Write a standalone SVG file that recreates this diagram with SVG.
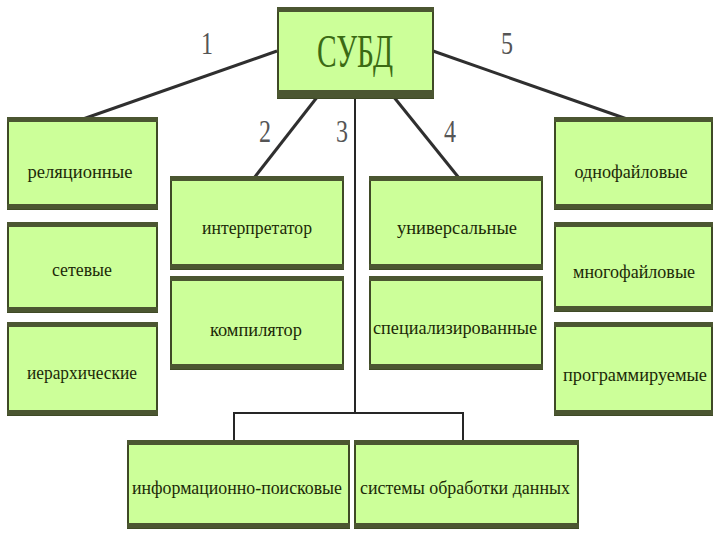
<svg xmlns="http://www.w3.org/2000/svg" width="720" height="540" viewBox="0 0 720 540">
<style>
.box{fill:#ccff99;stroke:#3f4a26;stroke-width:2}
.bar{fill:#4b5631}
.t{font-family:"Liberation Serif","DejaVu Serif",serif;font-size:18px;fill:#1c2a08;text-anchor:middle}
.big{font-family:"Liberation Serif","DejaVu Serif",serif;font-size:46px;fill:#3b6a14;text-anchor:middle}
.num{font-family:"Liberation Serif","DejaVu Serif",serif;font-size:32px;fill:#555;text-anchor:middle}
.c{stroke:#2f2f2f;stroke-width:3;fill:none;stroke-linecap:butt}
.c2{stroke:#262626;stroke-width:2;fill:none}
</style>
<rect width="720" height="540" fill="#ffffff"/>
<g id="connectors">
<line class="c" x1="277" y1="51" x2="83" y2="119"/>
<line class="c" x1="433" y1="51" x2="627" y2="119"/>
<line class="c" x1="318" y1="96" x2="254" y2="178"/>
<line class="c" x1="393" y1="96" x2="459" y2="178"/>
<line class="c2" x1="355" y1="98" x2="355" y2="413"/>
<polyline class="c2" points="234,441 234,413 463,413 463,441"/>
</g>
<g id="labels">
<text class="num" x="207" y="54" textLength="12" lengthAdjust="spacingAndGlyphs">1</text>
<text class="num" x="265" y="142" textLength="12" lengthAdjust="spacingAndGlyphs">2</text>
<text class="num" x="342" y="142" textLength="12" lengthAdjust="spacingAndGlyphs">3</text>
<text class="num" x="450" y="142" textLength="12" lengthAdjust="spacingAndGlyphs">4</text>
<text class="num" x="507" y="54" textLength="12" lengthAdjust="spacingAndGlyphs">5</text>
</g>
<g id="subd">
<rect class="box" x="278" y="8" width="155" height="90"/>
<rect class="bar" x="277" y="7" width="157" height="5"/>
<rect class="bar" x="277" y="90" width="157" height="8"/>
<text class="big" x="355" y="67" textLength="76" lengthAdjust="spacingAndGlyphs">СУБД</text>
</g>
<g id="n-relational">
<rect class="box" x="8" y="118" width="149" height="91"/>
<rect class="bar" x="7" y="117" width="151" height="5"/><rect class="bar" x="7" y="204" width="151" height="5"/>
<text class="t" x="80" y="178" textLength="105" lengthAdjust="spacingAndGlyphs">реляционные</text>
</g>
<g id="n-network">
<rect class="box" x="8" y="223" width="149" height="89"/>
<rect class="bar" x="7" y="222" width="151" height="5"/><rect class="bar" x="7" y="307" width="151" height="5"/>
<text class="t" x="82" y="276" textLength="60" lengthAdjust="spacingAndGlyphs">сетевые</text>
</g>
<g id="n-hier">
<rect class="box" x="8" y="323" width="149" height="92"/>
<rect class="bar" x="7" y="322" width="151" height="5"/><rect class="bar" x="7" y="410" width="151" height="5"/>
<text class="t" x="82" y="379" textLength="110" lengthAdjust="spacingAndGlyphs">иерархические</text>
</g>
<g id="n-interp">
<rect class="box" x="171" y="177" width="172" height="92"/>
<rect class="bar" x="170" y="176" width="174" height="5"/><rect class="bar" x="170" y="264" width="174" height="5"/>
<text class="t" x="257" y="234" textLength="110" lengthAdjust="spacingAndGlyphs">интерпретатор</text>
</g>
<g id="n-compiler">
<rect class="box" x="171" y="277" width="172" height="92"/>
<rect class="bar" x="170" y="276" width="174" height="5"/><rect class="bar" x="170" y="364" width="174" height="5"/>
<text class="t" x="256" y="336" textLength="92" lengthAdjust="spacingAndGlyphs">компилятор</text>
</g>
<g id="n-universal">
<rect class="box" x="370" y="177" width="172" height="92"/>
<rect class="bar" x="369" y="176" width="174" height="5"/><rect class="bar" x="369" y="264" width="174" height="5"/>
<text class="t" x="457" y="234" textLength="120" lengthAdjust="spacingAndGlyphs">универсальные</text>
</g>
<g id="n-special">
<rect class="box" x="370" y="277" width="172" height="92"/>
<rect class="bar" x="369" y="276" width="174" height="5"/><rect class="bar" x="369" y="364" width="174" height="5"/>
<text class="t" x="455" y="334" textLength="164" lengthAdjust="spacingAndGlyphs">специализированные</text>
</g>
<g id="n-single">
<rect class="box" x="555" y="118" width="157" height="91"/>
<rect class="bar" x="554" y="117" width="159" height="5"/><rect class="bar" x="554" y="204" width="159" height="5"/>
<text class="t" x="631" y="178" textLength="113" lengthAdjust="spacingAndGlyphs">однофайловые</text>
</g>
<g id="n-multi">
<rect class="box" x="555" y="223" width="157" height="88"/>
<rect class="bar" x="554" y="222" width="159" height="5"/><rect class="bar" x="554" y="306" width="159" height="5"/>
<text class="t" x="634" y="278" textLength="122" lengthAdjust="spacingAndGlyphs">многофайловые</text>
</g>
<g id="n-prog">
<rect class="box" x="555" y="323" width="157" height="92"/>
<rect class="bar" x="554" y="322" width="159" height="5"/><rect class="bar" x="554" y="410" width="159" height="5"/>
<text class="t" x="635" y="381" textLength="144" lengthAdjust="spacingAndGlyphs">программируемые</text>
</g>
<g id="n-info">
<rect class="box" x="128" y="441" width="221" height="87"/>
<rect class="bar" x="127" y="440" width="223" height="5"/><rect class="bar" x="127" y="523" width="223" height="5"/>
<text class="t" x="237" y="494" textLength="210" lengthAdjust="spacingAndGlyphs">информационно-поисковые</text>
</g>
<g id="n-dataproc">
<rect class="box" x="355" y="441" width="223" height="87"/>
<rect class="bar" x="354" y="440" width="225" height="5"/><rect class="bar" x="354" y="523" width="225" height="5"/>
<text class="t" x="465" y="494" textLength="210" lengthAdjust="spacingAndGlyphs">системы обработки данных</text>
</g>
</svg>
